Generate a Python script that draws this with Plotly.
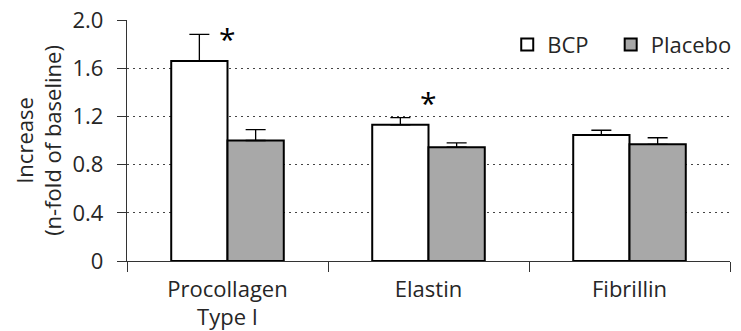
import plotly.graph_objects as go

categories = ["Procollagen<br>Type I", "Elastin", "Fibrillin"]
bcp_values = [1.66, 1.13, 1.045]
bcp_err = [0.22, 0.06, 0.04]
placebo_values = [1.00, 0.945, 0.968]
placebo_err = [0.09, 0.035, 0.055]
sig_y = [1.87, 1.34, None]
y_ticks = [0, 0.4, 0.8, 1.2, 1.6, 2.0]
y_tick_labels = ["0", "0.4", "0.8", "1.2", "1.6", "2.0"]

FONT = "Open Sans"
FS = 22
TXT = "#262626"

fig = go.Figure()
fig.add_trace(go.Bar(
    name="BCP&nbsp;&nbsp;&nbsp;", x=categories, y=bcp_values,
    marker=dict(color="white", line=dict(color="black", width=2)),
    error_y=dict(type="data", array=bcp_err, arrayminus=[0] * len(bcp_err), symmetric=False,
                 color="black", thickness=1.3, width=10),
))
fig.add_trace(go.Bar(
    name="Placebo", x=categories, y=placebo_values,
    marker=dict(color="#a8a8a8", line=dict(color="black", width=2)),
    error_y=dict(type="data", array=placebo_err, arrayminus=[0] * len(placebo_err), symmetric=False,
                 color="black", thickness=1.3, width=10),
))

for c, s in zip(categories, sig_y):
    if s is not None:
        fig.add_annotation(x=c, y=s, text="*", showarrow=False, xanchor="center", yanchor="middle",
                           yshift=-3, font=dict(family=FONT, size=30, color="black"))

fig.update_layout(
    width=741, height=331,
    margin=dict(l=127, r=11, t=20, b=70, autoexpand=False),
    plot_bgcolor="white", paper_bgcolor="white",
    barmode="group", bargap=0.44, bargroupgap=0,
    font=dict(family=FONT, size=FS, color=TXT),
    showlegend=True,
    legend=dict(orientation="h", x=1.012, xanchor="right", y=0.985, yanchor="top",
                font=dict(family=FONT, size=FS, color=TXT), bgcolor="rgba(0,0,0,0)",
                itemsizing="constant", tracegroupgap=0),
    xaxis=dict(showline=True, linecolor="#333", linewidth=1.3, ticks="outside", tickson="boundaries",
               ticklen=10, tickcolor="#333", tickwidth=1.3, showgrid=False, automargin=False,
               ticklabelstandoff=8,
               tickfont=dict(family=FONT, size=FS, color=TXT)),
    yaxis=dict(range=[0, 2.0], tickvals=y_ticks, ticktext=y_tick_labels, showline=True, linecolor="#333",
               linewidth=1.3, ticks="outside", ticklen=9, tickcolor="#333", tickwidth=1.3,
               showgrid=True, gridcolor="#444", griddash="2px,4px", gridwidth=1.3, zeroline=False,
               automargin=False, ticklabelstandoff=9,
               tickfont=dict(family=FONT, size=FS, color=TXT),
               title=dict(text="Increase<br>(n-fold of baseline)", standoff=4,
                          font=dict(family=FONT, size=FS, color=TXT))),
)

fig.write_html("out.html", post_script="document.body.style.margin='0';",
               config={"displayModeBar": False})
